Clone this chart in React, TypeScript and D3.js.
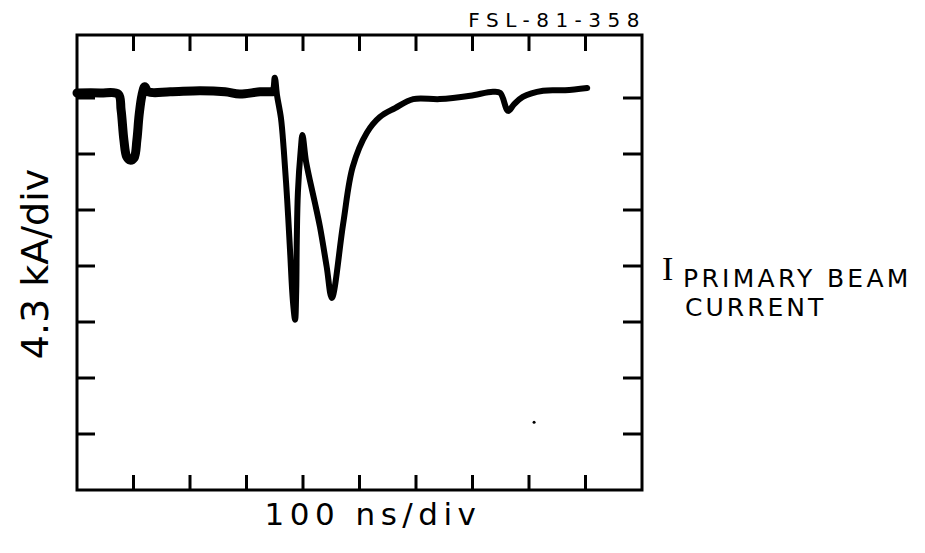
import React from "react";
import * as d3 from "d3";

// Trace samples: time (divisions of 100 ns) and current (divisions of 4.3 kA)
const traceTime = [
  0, 0.41, 0.73, 0.78, 0.83, 0.88, 0.94, 1.01, 1.06, 1.1, 1.15, 1.2, 1.26, 1.65, 2.18,
  2.62, 2.88, 3.24, 3.45, 3.5, 3.54, 3.61, 3.66, 3.72, 3.77, 3.82, 3.86, 3.88, 3.89,
  3.91, 3.96, 3.99, 4.05, 4.12, 4.21, 4.3, 4.42, 4.51, 4.71, 4.88, 5.13, 5.36,
  5.63, 5.95, 6.42, 6.96, 7.36, 7.49, 7.63, 7.73, 7.89, 8.25, 8.64, 9.03,
];
const traceCurrent = [
  7.09, 7.09, 7.07, 6.79, 6.25, 5.95, 5.89, 5.93, 6.25, 6.7, 7.05, 7.2, 7.11, 7.11, 7.13,
  7.11, 7.07, 7.11, 7.11, 7.36, 7.05, 6.64, 6.07, 5.18, 4.29, 3.39, 3.04, 3.57, 4.46,
  5.32, 6.07, 6.34, 5.89, 5.54, 5.13, 4.7, 3.98, 3.43, 4.75, 5.77, 6.38, 6.66,
  6.82, 6.98, 6.98, 7.04, 7.11, 7.09, 6.77, 6.88, 7.02, 7.13, 7.14, 7.18,
];

const xTicks = [1, 2, 3, 4, 5, 6, 7, 8, 9];
const yTicks = [1, 2, 3, 4, 5, 6, 7];
const speck = [{ t: 8.09, c: 1.21 }];

const figureId = "FSL-81-358";
const xLabel = "100 ns/div";
const yLabel = "4.3 kA/div";
const sideSymbol = "I";
const sideLine1 = "PRIMARY BEAM";
const sideLine2 = "CURRENT";

export default function App() {
  const W = 925;
  const H = 553;
  const left = 77;
  const right = 642;
  const top = 35;
  const bottom = 490;

  const x = d3.scaleLinear().domain([0, 10]).range([left, right]);
  const y = d3.scaleLinear().domain([0, 8.125]).range([bottom, top]);

  const pts = traceTime.map((t, i) => [t, traceCurrent[i]] as [number, number]);
  const line = d3
    .line<[number, number]>()
    .x((d) => x(d[0]))
    .y((d) => y(d[1]))
    .curve(d3.curveCatmullRom.alpha(0.5));
  const path = line(pts) || "";

  const flat = pts.filter((p) => p[0] <= 3.46);
  const flatPath = line(flat) || "";

  const font = "'DejaVu Sans', 'Liberation Sans', sans-serif";

  return (
    <svg
      width={W}
      height={H}
      style={{ position: "absolute", left: 0, top: 0, background: "#fff" }}
    >
      <rect x={0} y={0} width={W} height={H} fill="#fff" />
      {/* frame */}
      <rect
        x={left}
        y={top}
        width={right - left}
        height={bottom - top}
        fill="none"
        stroke="#000"
        strokeWidth={3}
      />
      {/* top & bottom ticks */}
      {xTicks.map((t) => (
        <g key={"x" + t}>
          <line x1={x(t)} x2={x(t)} y1={top} y2={top + 16} stroke="#000" strokeWidth={3} />
          <line x1={x(t)} x2={x(t)} y1={bottom} y2={bottom - 15} stroke="#000" strokeWidth={3} />
        </g>
      ))}
      {/* left & right ticks */}
      {yTicks.map((t) => (
        <g key={"y" + t}>
          <line x1={left} x2={left + 18} y1={y(t)} y2={y(t)} stroke="#000" strokeWidth={3} />
          <line x1={right} x2={right - 19} y1={y(t)} y2={y(t)} stroke="#000" strokeWidth={3} />
        </g>
      ))}
      {/* trace */}
      <path d={flatPath} fill="none" stroke="#000" strokeWidth={9} strokeLinejoin="round" strokeLinecap="round" />
      <path d={path} fill="none" stroke="#000" strokeWidth={6} strokeLinejoin="round" strokeLinecap="round" />
      {speck.map((s, i) => (
        <circle key={i} cx={x(s.t)} cy={y(s.c)} r={1.5} fill="#000" />
      ))}
      {/* labels */}
      <text
        x={646}
        y={27}
        textAnchor="end"
        fontFamily={font}
        fontSize={20}
        letterSpacing={6.5}
        fill="#000"
      >
        {figureId}
      </text>
      <text
        x={373}
        y={525}
        textAnchor="middle"
        fontFamily={font}
        fontSize={31}
        letterSpacing={5.5}
        fill="#000"
      >
        {xLabel}
      </text>
      <text
        transform={`translate(48,264) rotate(-90)`}
        textAnchor="middle"
        fontFamily={font}
        fontSize={38}
        fill="#000"
      >
        {yLabel}
      </text>
      <text x={662} y={280} fontFamily="'Liberation Serif', serif" fontSize={34} fill="#000">
        {sideSymbol}
      </text>
      <text x={683} y={287} fontFamily={font} fontSize={25} letterSpacing={3.3} fill="#000">
        {sideLine1}
      </text>
      <text x={685} y={316} fontFamily={font} fontSize={25} letterSpacing={3} fill="#000">
        {sideLine2}
      </text>
    </svg>
  );
}
